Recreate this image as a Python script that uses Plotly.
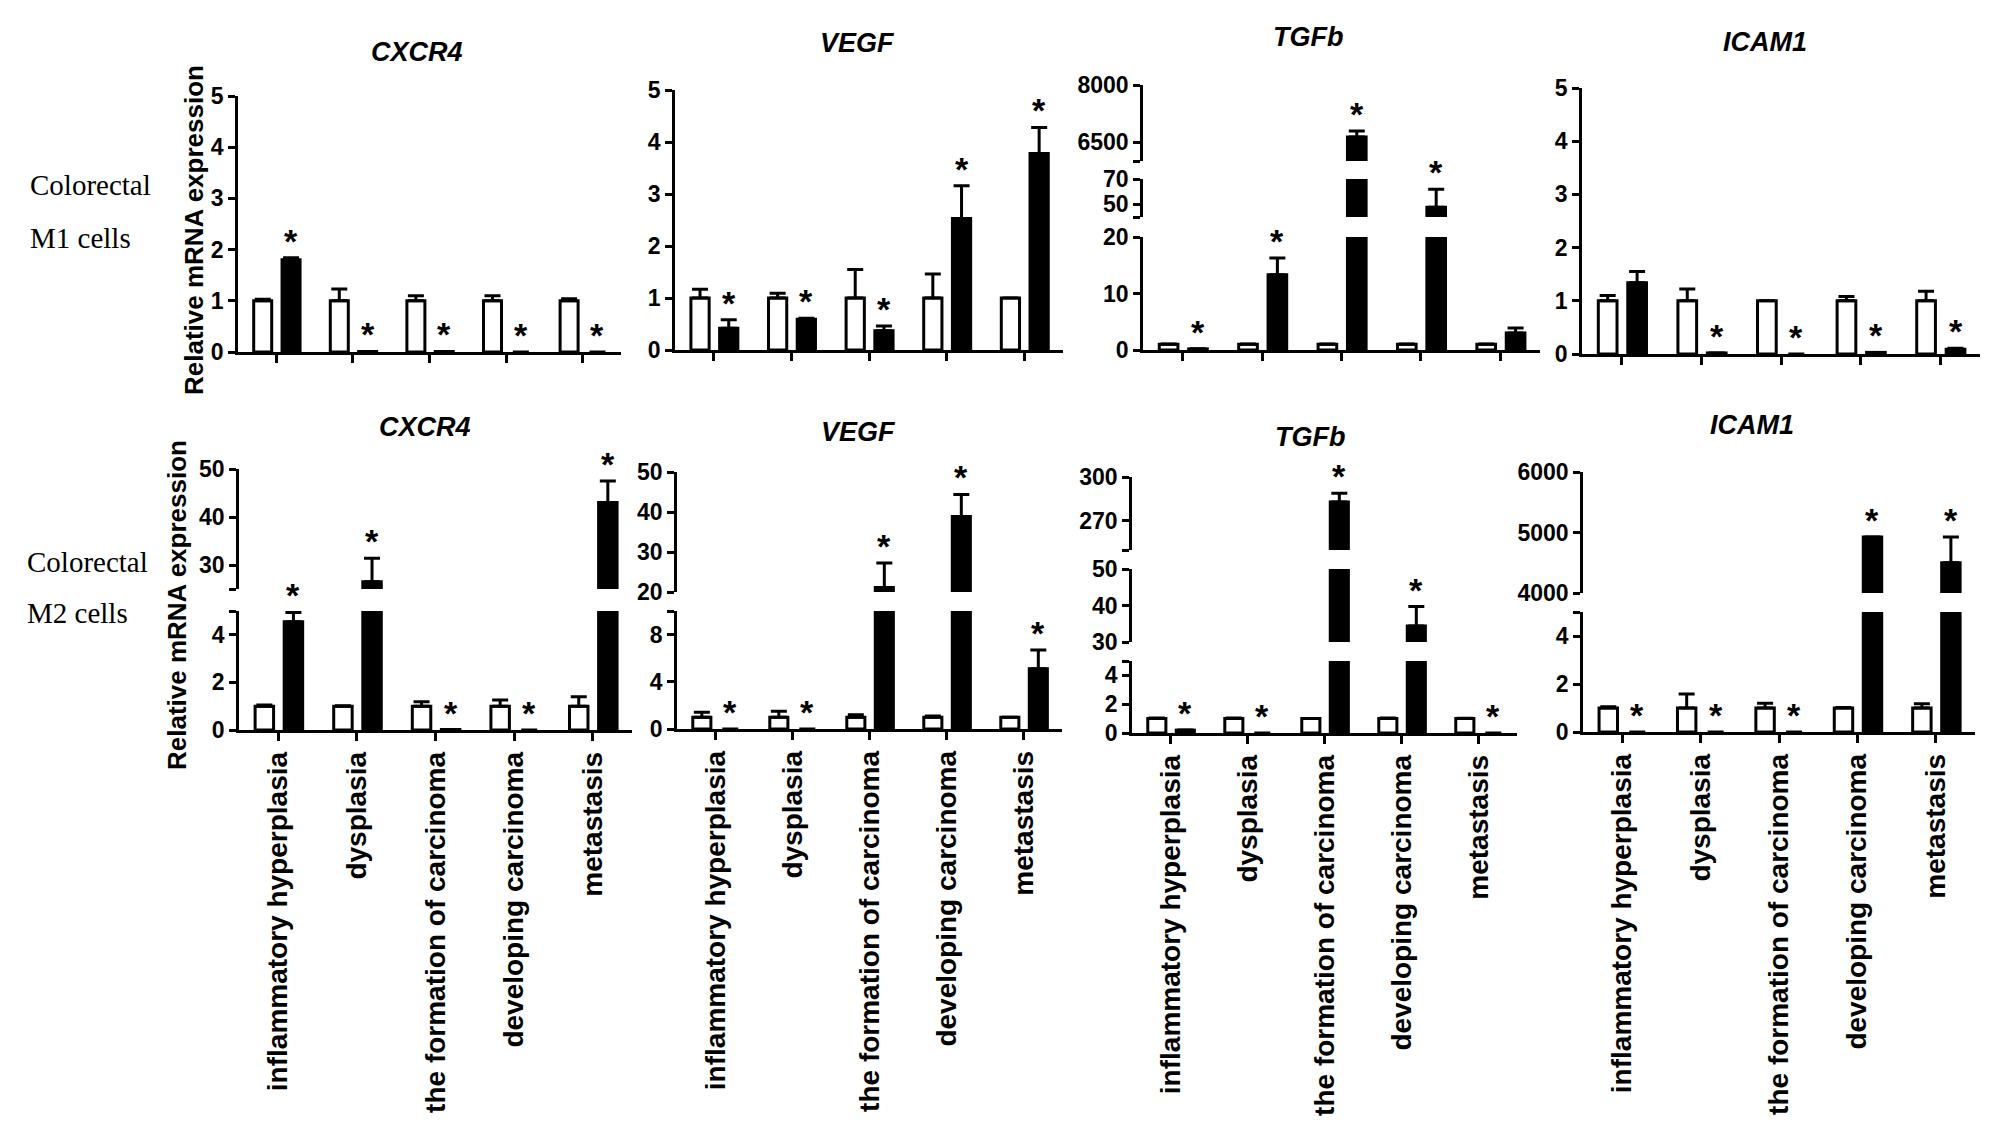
import plotly.graph_objects as go

categories = ["inflammatory hyperplasia", "dysplasia", "the formation of carcinoma",
              "developing carcinoma", "metastasis"]

# M1 cells (top row): control (white) and treated (black) bars, upper error, significance
m1_cxcr4_ctrl = [1, 1, 1, 1, 1]
m1_cxcr4_ctrl_err = [0.03, 0.23, 0.1, 0.1, 0.04]
m1_cxcr4_treat = [1.8, 0.01, 0.01, 0, 0]
m1_cxcr4_treat_err = [0.04, 0, 0, 0, 0]
m1_cxcr4_sig = [1, 1, 1, 1, 1]

m1_vegf_ctrl = [1, 1, 1, 1, 1]
m1_vegf_ctrl_err = [0.17, 0.09, 0.55, 0.46, 0]
m1_vegf_treat = [0.42, 0.59, 0.37, 2.53, 3.78]
m1_vegf_treat_err = [0.16, 0.02, 0.09, 0.63, 0.5]
m1_vegf_sig = [1, 1, 1, 1, 1]

m1_tgfb_ctrl = [1, 1, 1, 1, 1]
m1_tgfb_ctrl_err = [0.05, 0.05, 0.05, 0.05, 0.05]
m1_tgfb_treat = [0.2, 13.3, 6630, 47.6, 3.0]
m1_tgfb_treat_err = [0, 3.0, 160, 14.4, 0.9]
m1_tgfb_sig = [1, 1, 1, 1, 0]

m1_icam1_ctrl = [1, 1, 1, 1, 1]
m1_icam1_ctrl_err = [0.1, 0.22, 0, 0.08, 0.18]
m1_icam1_treat = [1.34, 0.02, 0, 0.03, 0.09]
m1_icam1_treat_err = [0.21, 0, 0, 0, 0.02]
m1_icam1_sig = [0, 1, 1, 1, 1]

# M2 cells (bottom row)
m2_cxcr4_ctrl = [1, 1, 1, 1, 1]
m2_cxcr4_ctrl_err = [0.05, 0.02, 0.19, 0.26, 0.4]
m2_cxcr4_treat = [4.55, 26.5, 0.02, 0, 43.0]
m2_cxcr4_treat_err = [0.39, 4.9, 0, 0, 4.5]
m2_cxcr4_sig = [1, 1, 1, 1, 1]

m2_vegf_ctrl = [1, 1, 1, 1, 1]
m2_vegf_ctrl_err = [0.41, 0.5, 0.2, 0.1, 0]
m2_vegf_treat = [0, 0, 21.1, 38.85, 5.1]
m2_vegf_treat_err = [0, 0, 6.15, 5.55, 1.6]
m2_vegf_sig = [1, 1, 1, 1, 1]

m2_tgfb_ctrl = [1, 1, 1, 1, 1]
m2_tgfb_ctrl_err = [0.05, 0.05, 0, 0.05, 0.03]
m2_tgfb_treat = [0.2, 0, 282.9, 34.4, 0]
m2_tgfb_treat_err = [0, 0, 5.9, 5.3, 0]
m2_tgfb_sig = [1, 1, 1, 1, 1]

m2_icam1_ctrl = [1, 1, 1, 1, 1]
m2_icam1_ctrl_err = [0.05, 0.58, 0.2, 0.02, 0.18]
m2_icam1_treat = [0, 0, 0, 4927, 4498]
m2_icam1_treat_err = [0, 0, 0, 0, 429]
m2_icam1_sig = [1, 1, 1, 1, 1]

W, H = 2008, 1143
PAD = 8  # default page body margin
FW, FH = W - 2 * PAD, H - 2 * PAD
SANS = 'Liberation Sans, Arial, sans-serif'
SERIF = 'Liberation Serif, Times New Roman, serif'


def fx(p):
    return (p - PAD) / FW


def fy(p):
    return 1 - (p - PAD) / FH


# geometry: x axis pixel span, y segments (low, high, bottom px, top px, ticks, tick labels)
panels = [
    dict(title='CXCR4', tpos=(417, 52), xpx=(238, 621), labels=False,
         data=(m1_cxcr4_ctrl, m1_cxcr4_ctrl_err, m1_cxcr4_treat, m1_cxcr4_treat_err, m1_cxcr4_sig),
         segs=[(0, 5, 352, 96, [0, 1, 2, 3, 4, 5], None)]),
    dict(title='VEGF', tpos=(857, 43), xpx=(675, 1063), labels=False,
         data=(m1_vegf_ctrl, m1_vegf_ctrl_err, m1_vegf_treat, m1_vegf_treat_err, m1_vegf_sig),
         segs=[(0, 5, 350, 90, [0, 1, 2, 3, 4, 5], None)]),
    dict(title='TGFb', tpos=(1308, 37), xpx=(1143, 1540), labels=False,
         data=(m1_tgfb_ctrl, m1_tgfb_ctrl_err, m1_tgfb_treat, m1_tgfb_treat_err, m1_tgfb_sig),
         segs=[(0, 20, 350, 237, [0, 10, 20], None),
               (40, 70, 217, 179, [40, 50, 70], ['', '50', '70']),
               (6000, 8000, 161, 85, [6000, 6500, 8000], ['', '6500', '8000'])]),
    dict(title='ICAM1', tpos=(1765, 42), xpx=(1582, 1980), labels=False,
         data=(m1_icam1_ctrl, m1_icam1_ctrl_err, m1_icam1_treat, m1_icam1_treat_err, m1_icam1_sig),
         segs=[(0, 5, 354, 88, [0, 1, 2, 3, 4, 5], None)]),
    dict(title='CXCR4', tpos=(425, 427), xpx=(239, 632), labels=True,
         data=(m2_cxcr4_ctrl, m2_cxcr4_ctrl_err, m2_cxcr4_treat, m2_cxcr4_treat_err, m2_cxcr4_sig),
         segs=[(0, 5, 730, 611, [0, 2, 4, 5], ['0', '2', '4', '']),
               (25, 50, 589, 469, [25, 30, 40, 50], ['', '30', '40', '50'])]),
    dict(title='VEGF', tpos=(858, 432), xpx=(677, 1062), labels=True,
         data=(m2_vegf_ctrl, m2_vegf_ctrl_err, m2_vegf_treat, m2_vegf_treat_err, m2_vegf_sig),
         segs=[(0, 10, 729, 611, [0, 4, 8, 10], ['0', '4', '8', '']),
               (20, 50, 592, 472, [20, 30, 40, 50], None)]),
    dict(title='TGFb', tpos=(1310, 437), xpx=(1132, 1517), labels=True,
         data=(m2_tgfb_ctrl, m2_tgfb_ctrl_err, m2_tgfb_treat, m2_tgfb_treat_err, m2_tgfb_sig),
         segs=[(0, 5, 733, 661, [0, 2, 4, 5], ['0', '2', '4', '']),
               (30, 50, 642, 569, [30, 40, 50], None),
               (250, 300, 550, 477, [250, 270, 300], ['', '270', '300'])]),
    dict(title='ICAM1', tpos=(1752, 425), xpx=(1583, 1975), labels=True,
         data=(m2_icam1_ctrl, m2_icam1_ctrl_err, m2_icam1_treat, m2_icam1_treat_err, m2_icam1_sig),
         segs=[(0, 5, 732, 612, [0, 2, 4, 5], ['0', '2', '4', '']),
               (4000, 6000, 593, 472, [4000, 5000, 6000], None)]),
]

fig = go.Figure()
layout = {}
annotations = []
xs = list(range(len(categories)))
BAR_W = 0.235
CTRL_OFF = -0.295
TREAT_OFF = 0.075
axis_style = dict(showline=True, linecolor='black', linewidth=2.5, ticks='outside',
                  tickcolor='black', tickwidth=2.5, showgrid=False, zeroline=False,
                  fixedrange=True, automargin=False)

yi = 0
for xi, p in enumerate(panels, start=1):
    xname = 'x' if xi == 1 else f'x{xi}'
    first_y = yi + 1
    layout['xaxis' if xi == 1 else f'xaxis{xi}'] = dict(
        axis_style, domain=[fx(p['xpx'][0]), fx(p['xpx'][1])], range=[-0.5, 4.5],
        anchor='y' if first_y == 1 else f'y{first_y}', tickvals=xs,
        ticktext=categories, showticklabels=p['labels'], tickangle=-90, ticklen=8,
        tickfont=dict(family=SANS, size=28, color='black', weight='bold'))
    ctrl, ctrl_err, treat, treat_err, sig = p['data']
    for lo, hi, pb, pt, tv, tt in p['segs']:
        yi += 1
        yname = 'y' if yi == 1 else f'y{yi}'
        layout['yaxis' if yi == 1 else f'yaxis{yi}'] = dict(
            axis_style, domain=[fy(pb), fy(pt)], range=[lo, hi], anchor=xname,
            tickvals=tv, ticktext=tt if tt else [str(v) for v in tv], ticklen=7,
            tickfont=dict(family=SANS, size=23, color='black', weight='bold'))
        for vals, errs, off, fill in ((ctrl, ctrl_err, CTRL_OFF, 'white'),
                                      (treat, treat_err, TREAT_OFF, 'black')):
            fig.add_trace(go.Bar(
                x=xs, y=vals, width=BAR_W, offset=off, xaxis=xname, yaxis=yname,
                marker=dict(color=fill, line=dict(color='black',
                                                  width=[3 if v > 0 else 0 for v in vals])),
                error_y=dict(type='data', symmetric=False, array=errs,
                             arrayminus=[0] * len(errs), color='black', thickness=3, width=8),
                showlegend=False, hoverinfo='skip'))
        for i, s in enumerate(sig):
            top = treat[i] + treat_err[i]
            if s and lo <= top <= hi:
                annotations.append(dict(
                    x=i + TREAT_OFF + BAR_W / 2, y=top, xref=xname, yref=yname,
                    text='*', showarrow=False, yanchor='bottom', yshift=-4,
                    font=dict(family=SANS, size=34, color='black', weight='bold')))

    annotations.append(dict(
        x=fx(p['tpos'][0]), y=fy(p['tpos'][1]), xref='paper', yref='paper', text=p['title'],
        showarrow=False, xanchor='center', yanchor='middle',
        font=dict(family=SANS, size=27, color='black', weight='bold', style='italic')))

# y axis titles and row labels
for x_px, y_px in ((194, 230), (177, 605)):
    annotations.append(dict(
        x=fx(x_px), y=fy(y_px), xref='paper', yref='paper', text='Relative mRNA expression',
        textangle=-90, showarrow=False, xanchor='center', yanchor='middle',
        font=dict(family=SANS, size=26, color='black', weight='bold')))
for text, x_px, y_px in (('Colorectal', 28, 185), ('M1 cells', 28, 238),
                         ('Colorectal', 25, 562), ('M2 cells', 25, 613)):
    annotations.append(dict(
        x=fx(x_px), y=fy(y_px), xref='paper', yref='paper', text=text, showarrow=False,
        xanchor='left', yanchor='middle', font=dict(family=SERIF, size=29, color='black')))

fig.update_layout(layout)
fig.update_layout(
    width=FW, height=FH, margin=dict(l=0, r=0, t=0, b=0, pad=0, autoexpand=False),
    paper_bgcolor='white', plot_bgcolor='white', barmode='overlay',
    annotations=annotations, showlegend=False)

fig.write_html("out.html")
